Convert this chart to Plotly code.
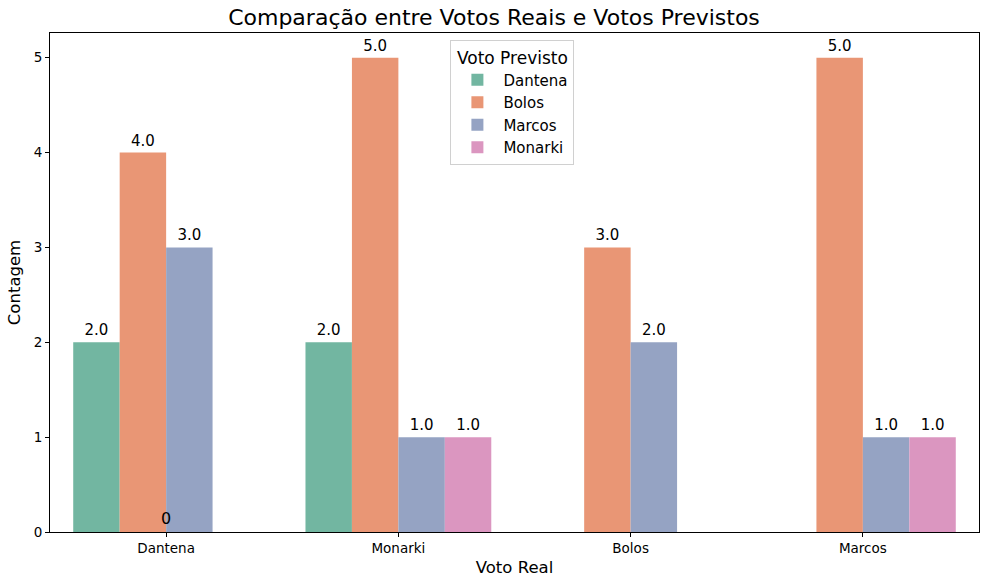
import plotly.graph_objects as go

# contagem de votos por voto real (x) e voto previsto (cor)
voto_real = ["Dantena", "Monarki", "Bolos", "Marcos"]
voto_previsto = ["Dantena", "Bolos", "Marcos", "Monarki"]
contagem = {
    "Dantena": [2, 2, None, None],
    "Bolos": [4, 5, 3, 5],
    "Marcos": [3, 1, 2, 1],
    "Monarki": [None, 1, None, 1],
}
cores = {
    "Dantena": "#72b6a1",
    "Bolos": "#e99675",
    "Marcos": "#95a3c3",
    "Monarki": "#db96c0",
}

fig = go.Figure()
for nome in voto_previsto:
    fig.add_trace(go.Bar(
        x=voto_real,
        y=contagem[nome],
        name=nome,
        marker_color=cores[nome],
        marker_line_width=0,
        texttemplate="%{y:.1f}",
        textposition="outside",
        textfont=dict(size=15, color="#000000"),
        cliponaxis=False,
    ))

fig.add_annotation(x="Dantena", y=0, text="0", showarrow=False,
                   yanchor="bottom", yshift=2,
                   font=dict(size=16, color="#000000"))

fig.update_layout(
    width=988, height=588,
    margin=dict(l=50, r=9, t=33, b=56),
    paper_bgcolor="white",
    plot_bgcolor="white",
    font=dict(family="DejaVu Sans", color="#000000"),
    title=dict(text="Comparação entre Votos Reais e Votos Previstos",
               x=0.5, xanchor="center", y=0.97, yanchor="middle",
               font=dict(size=22)),
    barmode="group",
    bargap=0.2,
    bargroupgap=0,
    legend=dict(
        title=dict(text="Voto Previsto", font=dict(size=17), side="top center"),
        x=0.431, xanchor="left", y=0.985, yanchor="top",
        itemwidth=42,
        bordercolor="#d0d0d0", borderwidth=1, bgcolor="rgba(255,255,255,0.8)",
        font=dict(size=15),
    ),
    xaxis=dict(
        title=dict(text="Voto Real", font=dict(size=16.5), standoff=6),
        range=[-0.5, 3.5], showgrid=False,
        showline=True, linecolor="#000000", linewidth=1, mirror=True,
        ticks="outside", ticklen=4, tickcolor="#000000",
        tickfont=dict(size=13.5),
    ),
    yaxis=dict(
        title=dict(text="Contagem", font=dict(size=16.5), standoff=8),
        range=[0, 5.26], dtick=1, showgrid=False, zeroline=False,
        showline=True, linecolor="#000000", linewidth=1, mirror=True,
        ticks="outside", ticklen=4, tickcolor="#000000",
        tickfont=dict(size=13.5),
    ),
)

fig.write_html("out.html", config={"displayModeBar": False},
               post_script="document.body.style.margin = '0';")
